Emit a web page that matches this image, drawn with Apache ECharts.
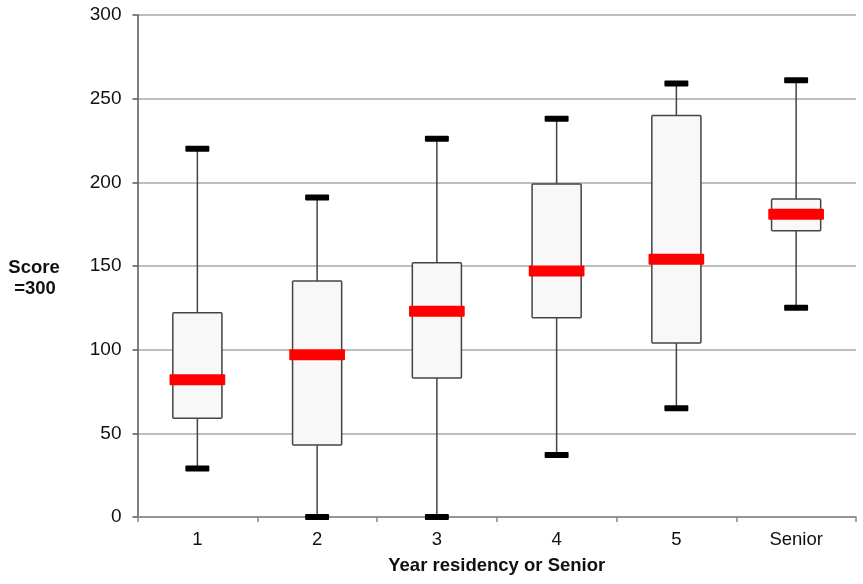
<!DOCTYPE html>
<html>
<head>
<meta charset="utf-8">
<script src="https://cdn.jsdelivr.net/npm/echarts@6/dist/echarts.min.js"></script>
<style>
    html, body { margin: 0; padding: 0; background: #fff; }
    #chartDiv { width: 863px; height: 584px; }
</style>
</head>
<body>
<div id="chartDiv"></div>
<script>
var categories = ['1', '2', '3', '4', '5', 'Senior'];
var lowWhisker = [29, 0, 0, 37, 65, 125];
var q1 = [59, 43, 83, 119, 104, 171];
var median = [82, 97, 123, 147, 154, 181];
var q3 = [122, 141, 152, 199, 240, 190];
var highWhisker = [220, 191, 226, 238, 259, 261];
var yTicks = [0, 50, 100, 150, 200, 250, 300];

var boxData = categories.map(function (c, i) {
    return [i, lowWhisker[i], q1[i], median[i], q3[i], highWhisker[i]];
});

function renderBox(params, api) {
    var idx = api.value(0);
    var band = api.size([1, 0])[0];
    var pLow = api.coord([idx, api.value(1)]);
    var pQ1 = api.coord([idx, api.value(2)]);
    var pMed = api.coord([idx, api.value(3)]);
    var pQ3 = api.coord([idx, api.value(4)]);
    var pHigh = api.coord([idx, api.value(5)]);
    var x = pMed[0];
    var boxW = band * 0.41;
    var medW = band * 0.465;
    var capW = band * 0.2;
    var lineStyle = { stroke: '#444', lineWidth: 1.5 };
    return {
        type: 'group',
        children: [
            // whiskers
            { type: 'line', shape: { x1: x, y1: pHigh[1], x2: x, y2: pQ3[1] }, style: lineStyle },
            { type: 'line', shape: { x1: x, y1: pQ1[1], x2: x, y2: pLow[1] }, style: lineStyle },
            // box
            {
                type: 'rect',
                shape: { x: x - boxW / 2, y: pQ3[1], width: boxW, height: pQ1[1] - pQ3[1], r: 1 },
                style: { fill: '#f8f8f8', stroke: '#444', lineWidth: 1.5 }
            },
            // caps
            {
                type: 'rect',
                shape: { x: x - capW / 2, y: pHigh[1] - 3, width: capW, height: 6, r: 1 },
                style: { fill: '#000' }
            },
            {
                type: 'rect',
                shape: { x: x - capW / 2, y: pLow[1] - 3, width: capW, height: 6, r: 1 },
                style: { fill: '#000' }
            },
            // median
            {
                type: 'rect',
                shape: { x: x - medW / 2, y: pMed[1] - 5.5, width: medW, height: 11, r: 1 },
                style: { fill: '#ff0000' }
            }
        ]
    };
}

var option = {
    animation: false,
    backgroundColor: '#fff',
    textStyle: { fontFamily: '"Liberation Sans", Arial, sans-serif' },
    grid: { left: 137.5, right: 7, top: 15, bottom: 67 },
    xAxis: {
        type: 'category',
        data: categories,
        boundaryGap: true,
        axisLine: { lineStyle: { color: '#888', width: 1.5 } },
        axisTick: { show: true, length: 5, interval: 0, lineStyle: { color: '#888', width: 1.5 } },
        axisLabel: { color: '#111', fontSize: 18.5, margin: 13 },
        splitLine: { show: false },
        name: 'Year residency or Senior',
        nameLocation: 'middle',
        nameGap: 39,
        nameTextStyle: { color: '#111', fontSize: 18.5, fontWeight: 'bold', verticalAlign: 'top' }
    },
    yAxis: {
        type: 'value',
        min: yTicks[0],
        max: yTicks[yTicks.length - 1],
        interval: 50,
        axisLine: { show: true, lineStyle: { color: '#555', width: 1.5 } },
        axisTick: { show: true, length: 5, lineStyle: { color: '#555', width: 1.5 } },
        axisLabel: { color: '#111', fontSize: 19, margin: 16 },
        splitLine: { show: true, lineStyle: { color: '#a8a8a8', width: 1.5 } }
    },
    graphic: [
        {
            type: 'text',
            x: 34,
            y: 268,
            style: {
                text: 'Score',
                fill: '#111',
                font: 'bold 18.5px "Liberation Sans", Arial, sans-serif',
                align: 'center',
                verticalAlign: 'middle'
            }
        },
        {
            type: 'text',
            x: 35,
            y: 288.5,
            style: {
                text: '=300',
                fill: '#111',
                font: 'bold 18.5px "Liberation Sans", Arial, sans-serif',
                align: 'center',
                verticalAlign: 'middle'
            }
        }
    ],
    series: [
        {
            type: 'custom',
            renderItem: renderBox,
            encode: { x: 0, y: [1, 2, 3, 4, 5] },
            data: boxData
        }
    ]
};

var chart = echarts.init(document.getElementById('chartDiv'));
chart.setOption(option);
</script>
</body>
</html>
